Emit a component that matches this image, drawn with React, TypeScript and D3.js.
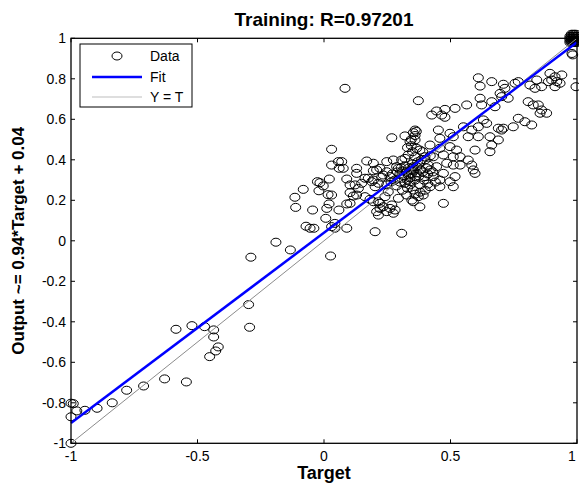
import React from 'react';
import * as d3 from 'd3';

// regression plot: targets vs network outputs (training set)
const titleText = 'Training: R=0.97201';
const xLabel = 'Target';
const yLabel = 'Output ~= 0.94*Target + 0.04';

const xTicks = [-1, -0.5, 0, 0.5, 1];
const xTickLabels = ['-1', '-0.5', '0', '0.5', '1'];
const yTicks = [-1, -0.8, -0.6, -0.4, -0.2, 0, 0.2, 0.4, 0.6, 0.8, 1];
const yTickLabels = ['-1', '-0.8', '-0.6', '-0.4', '-0.2', '0', '0.2', '0.4', '0.6', '0.8', '1'];

const fitSlope = 0.94;
const fitIntercept = 0.04;

// [target, output]
const lowerTail: [number, number][] = [
  [-0.289, -0.081], [-0.298, -0.315], [-0.294, -0.427], [-0.585, -0.437], [-0.522, -0.419],
  [-0.472, -0.424], [-0.436, -0.44], [-0.436, -0.475], [-0.418, -0.524], [-0.428, -0.544],
  [-0.452, -0.572], [-0.63, -0.682], [-0.544, -0.697], [-0.713, -0.717], [-0.78, -0.738],
  [-0.837, -0.8], [-0.897, -0.827], [-0.945, -0.837], [-0.977, -0.84], [-1, -0.802],
  [-0.991, -0.804], [-1, -0.869], [-1, -1],
];

const leftCloud: [number, number][] = [
  [0.03, 0.452], [0.03, 0.374], [0.057, 0.391], [0.06, 0.358], [0.021, 0.305], [-0.026, 0.292],
  [-0.016, 0.287], [-0.003, 0.271], [-0.02, 0.247], [-0.082, 0.254], [0.016, 0.228], [-0.115, 0.215],
  [-0.112, 0.165], [-0.045, 0.152], [0.02, 0.182], [0.011, 0.16], [0.059, 0.152], [0.007, 0.111],
  [-0.071, 0.072], [-0.055, 0.062], [-0.04, 0.062], [0.03, 0.07], [0.043, 0.062], [-0.19, -0.007],
  [-0.133, -0.045], [0.026, -0.075],
];

const centerCloud: [number, number][] = [
  [0.083, 0.753], [0.373, 0.692], [0.268, 0.509], [0.32, 0.518], [0.353, 0.534], [0.169, 0.394],
  [0.195, 0.383], [0.129, 0.358], [0.129, 0.333], [0.208, 0.35], [0.234, 0.325], [0.248, 0.391],
  [0.274, 0.399], [0.307, 0.399], [0.287, 0.366], [0.09, 0.305], [0.123, 0.276], [0.175, 0.309],
  [0.189, 0.292], [0.202, 0.267], [0.103, 0.238], [0.129, 0.226], [0.103, 0.185], [0.162, 0.218],
  [0.182, 0.205], [0.215, 0.193], [0.208, 0.144], [0.234, 0.168], [0.261, 0.16], [0.274, 0.136],
  [0.09, 0.062], [0.202, 0.045], [0.307, 0.037], [0.34, 0.489], [0.366, 0.457], [0.07, 0.391],
  [0.076, 0.358], [0.32, 0.407], [0.333, 0.424], [0.36, 0.415], [0.195, 0.346], [0.221, 0.358],
  [0.248, 0.341], [0.294, 0.358], [0.347, 0.35], [0.366, 0.366], [0.162, 0.309], [0.195, 0.3],
  [0.228, 0.314], [0.261, 0.317], [0.307, 0.309], [0.333, 0.325], [0.36, 0.317], [0.103, 0.276],
  [0.215, 0.284], [0.248, 0.276], [0.287, 0.271], [0.32, 0.284], [0.34, 0.292], [0.149, 0.284],
  [0.136, 0.259], [0.03, 0.226], [0.116, 0.221], [0.09, 0.182], [0.195, 0.193], [0.221, 0.185],
  [0.241, 0.218], [0.254, 0.242], [0.34, 0.276], [0.353, 0.251], [0.327, 0.226], [0.347, 0.201],
  [0.294, 0.21], [0.268, 0.177], [0.281, 0.152], [0.248, 0.144], [0.215, 0.127], [0.221, 0.16],
  [0.379, 0.168], [0.043, 0.086],
  [0.3, 0.33], [0.31, 0.345], [0.325, 0.34], [0.335, 0.36], [0.345, 0.33], [0.355, 0.345],
  [0.315, 0.32], [0.35, 0.38], [0.33, 0.3], [0.365, 0.335], [0.38, 0.35], [0.3, 0.29],
  [0.37, 0.39], [0.385, 0.4], [0.36, 0.52], [0.365, 0.54], [0.345, 0.5],
];

// overlapping circles in the densest part of the cloud
const denseCore: [number, number][] = [
  [0.29, 0.34], [0.305, 0.36], [0.32, 0.37], [0.34, 0.31], [0.35, 0.36], [0.36, 0.3],
  [0.375, 0.32], [0.39, 0.34], [0.395, 0.3], [0.405, 0.36], [0.41, 0.33], [0.42, 0.35],
  [0.43, 0.34], [0.4, 0.25], [0.41, 0.28], [0.44, 0.29], [0.38, 0.24], [0.36, 0.23],
  [0.33, 0.26], [0.31, 0.25], [0.28, 0.3], [0.27, 0.33], [0.265, 0.29], [0.4, 0.4],
  [0.42, 0.42], [0.39, 0.44], [0.35, 0.44], [0.33, 0.46], [0.345, 0.47],
];

const upperCloud: [number, number][] = [
  [0.61, 0.805], [0.617, 0.764], [0.663, 0.786], [0.617, 0.704], [0.623, 0.671], [0.663, 0.687],
  [0.676, 0.662], [0.564, 0.671], [0.518, 0.654], [0.478, 0.649], [0.445, 0.641], [0.426, 0.621],
  [0.465, 0.621], [0.478, 0.61], [0.63, 0.597], [0.643, 0.58], [0.61, 0.563], [0.689, 0.556],
  [0.551, 0.563], [0.584, 0.547], [0.57, 0.514], [0.61, 0.514], [0.656, 0.514], [0.663, 0.473],
  [0.656, 0.44], [0.597, 0.448], [0.452, 0.547], [0.458, 0.506], [0.498, 0.531], [0.511, 0.514],
  [0.36, 0.547], [0.36, 0.498], [0.419, 0.473], [0.458, 0.457], [0.498, 0.465], [0.524, 0.448],
  [0.538, 0.415], [0.511, 0.415], [0.472, 0.424], [0.432, 0.415], [0.399, 0.415], [0.379, 0.448],
  [0.57, 0.399], [0.584, 0.374], [0.59, 0.35], [0.597, 0.333], [0.538, 0.374], [0.511, 0.374],
  [0.485, 0.383], [0.445, 0.366], [0.412, 0.374], [0.379, 0.383], [0.353, 0.366], [0.472, 0.333],
  [0.518, 0.317], [0.498, 0.292], [0.511, 0.267], [0.458, 0.3], [0.432, 0.317], [0.399, 0.317],
  [0.379, 0.276], [0.419, 0.267], [0.458, 0.267], [0.373, 0.218], [0.392, 0.226], [0.353, 0.193],
  [0.472, 0.185],
];

const topCloud: [number, number][] = [
  [0.983, 0.918], [0.98, 0.925], [0.996, 0.761], [0.94, 0.819], [0.913, 0.81], [0.893, 0.827],
  [0.9, 0.794], [0.92, 0.786], [0.933, 0.778], [0.913, 0.761], [0.887, 0.786], [0.841, 0.794],
  [0.86, 0.761], [0.834, 0.753], [0.814, 0.769], [0.768, 0.786], [0.755, 0.778], [0.709, 0.773],
  [0.715, 0.753], [0.696, 0.728], [0.728, 0.704], [0.702, 0.712], [0.807, 0.687], [0.827, 0.671],
  [0.847, 0.671], [0.86, 0.646], [0.854, 0.63], [0.88, 0.63], [0.768, 0.605], [0.794, 0.588],
  [0.821, 0.572], [0.748, 0.563], [0.709, 0.556], [0.702, 0.547], [0.689, 0.498],
];

// many samples piled up at the saturated corner
const saturated: [number, number][] = [
  [0.972, 0.98], [0.978, 0.98], [0.984, 0.98], [0.99, 0.98], [0.996, 0.98], [1, 0.98],
  [0.972, 0.99], [0.978, 0.99], [0.984, 0.99], [0.99, 0.99], [0.996, 0.99], [1, 0.99],
  [0.972, 1], [0.978, 1], [0.984, 1], [0.99, 1], [0.996, 1], [1, 1],
  [0.972, 1.01], [0.978, 1.01], [0.984, 1.01], [0.99, 1.01], [0.996, 1.01], [1, 1.01],
  [0.978, 1.02], [0.984, 1.02], [0.99, 1.02], [0.996, 1.02],
];

const allPoints = [
  ...lowerTail, ...leftCloud, ...centerCloud, ...denseCore, ...upperCloud, ...topCloud, ...saturated,
];

const W = 579;
const H = 484;
const font = 'Liberation Sans, Arial, sans-serif';

export default function App() {
  const x = d3.scaleLinear().domain([-1, 1]).range([71, 577]);
  const y = d3.scaleLinear().domain([-1, 1]).range([443.3, 38.3]);
  const [x0, x1] = x.range();
  const [y0, y1] = y.range();

  const line = d3.line<[number, number]>()
    .x(d => x(d[0]))
    .y(d => y(d[1]));

  const fitPts: [number, number][] = [-1, 1].map(t => [t, fitSlope * t + fitIntercept]);
  const idPts: [number, number][] = [[-1, -1], [1, 1]];
  const tick = 4;

  return (
    <svg width={W} height={H} style={{ position: 'absolute', left: 0, top: 0, background: '#fff' }}
         fontFamily={font}>
      <rect x={0} y={0} width={W} height={H} fill="#fff" />

      {/* data */}
      {allPoints.map((d, i) => (
        <ellipse key={i} cx={x(d[0])} cy={y(d[1])} rx={5} ry={4}
                 fill="none" stroke="#000" strokeWidth={1} />
      ))}

      <path d={line(idPts) || ''} stroke="#8c8c8c" strokeWidth={1} fill="none" />
      <path d={line(fitPts) || ''} stroke="#0000ff" strokeWidth={2.5} fill="none" />

      {/* box + ticks */}
      <rect x={x0} y={y1} width={x1 - x0} height={y0 - y1} fill="none" stroke="#000" strokeWidth={1.3} />
      {xTicks.map(t => (
        <g key={'xt' + t}>
          <line x1={x(t)} x2={x(t)} y1={y0} y2={y0 - tick} stroke="#000" />
          <line x1={x(t)} x2={x(t)} y1={y1} y2={y1 + tick} stroke="#000" />
        </g>
      ))}
      {yTicks.map(t => (
        <g key={'yt' + t}>
          <line x1={x0} x2={x0 + tick} y1={y(t)} y2={y(t)} stroke="#000" />
          <line x1={x1} x2={x1 - tick} y1={y(t)} y2={y(t)} stroke="#000" />
        </g>
      ))}

      {xTicks.map((t, i) => (
        <text key={'xl' + t} x={Math.min(x(t), 572)} y={y0 + 18} textAnchor="middle" fontSize={14}>
          {xTickLabels[i]}
        </text>
      ))}
      {yTicks.map((t, i) => (
        <text key={'yl' + t} x={x0 - 5} y={y(t) + 5} textAnchor="end" fontSize={14}>{yTickLabels[i]}</text>
      ))}

      <text x={(x0 + x1) / 2} y={26} textAnchor="middle" fontSize={19} fontWeight="bold">{titleText}</text>
      <text x={(x0 + x1) / 2} y={479} textAnchor="middle" fontSize={18} fontWeight="bold">{xLabel}</text>
      <text transform={`translate(24,${(y0 + y1) / 2}) rotate(-90)`} textAnchor="middle" fontSize={17}
            fontWeight="bold">{yLabel}</text>

      {/* legend */}
      <g>
        <rect x={80} y={44} width={112} height={63} fill="#fff" stroke="#000" strokeWidth={1} />
        <ellipse cx={117} cy={56} rx={5} ry={4} fill="none" stroke="#000" />
        <line x1={92} x2={142} y1={77} y2={77} stroke="#0000ff" strokeWidth={2.5} />
        <line x1={92} x2={142} y1={97} y2={97} stroke="#bdbdbd" strokeWidth={1} />
        <text x={150} y={61} fontSize={14}>Data</text>
        <text x={150} y={82} fontSize={14}>Fit</text>
        <text x={150} y={102} fontSize={14}>Y = T</text>
      </g>
    </svg>
  );
}
